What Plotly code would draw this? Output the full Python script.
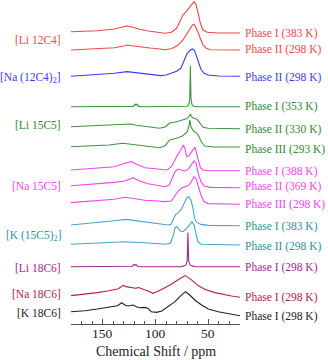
import plotly.graph_objects as go

# ---------------- data (ppm, intensity in arbitrary units) ----------------
li12c4_I_ppm = [180, 170.5, 155, 139, 132.5, 127.3, 121.4, 115, 107, 98, 91, 85, 80, 77, 74, 71, 68, 65, 63.5, 61.5, 59.6, 57.5, 55, 51, 40, 20]
li12c4_I_int = [1.3, 1.7, 2.3, 4, 5.7, 7, 5.7, 3.7, 2, 0.7, -0.3, 0.7, 4.7, 11.3, 18, 21.3, 25.7, 30.3, 31.3, 28, 19.7, 9.7, 3, 0.7, 0, 0]

li12c4_II_ppm = [180, 155, 139, 130, 127, 121, 113, 105, 98, 91, 85, 80, 77, 74, 71, 68, 65, 63.5, 62, 60, 58.5, 57, 55, 52, 48, 20]
li12c4_II_int = [0, 1, 2.3, 4, 5, 4, 2.7, 2, 1.3, 0.3, 1.3, 4, 6.7, 10, 15, 19.5, 25, 25.7, 23.3, 18.3, 15, 10, 5, 1.7, 0.3, 0]

na12c4_II_ppm = [180, 155, 139, 127, 118, 105, 95, 90, 85, 80, 76, 73, 70, 67, 65, 63, 61, 59, 57, 54, 50, 40, 20]
na12c4_II_int = [0, 1.7, 3, 4.7, 3.7, 1.7, 0.7, 1.3, 3, 5, 8, 14.7, 23, 26.3, 27.3, 25.7, 19.7, 13, 7, 3, 1.3, 0.3, 0]

li15c5_I_ppm = [180, 125, 121, 119.5, 118.5, 117.5, 116, 112, 75, 70, 68.5, 67.6, 67, 66.4, 65.5, 64, 60, 20]
li15c5_I_int = [0, 0, 0.3, 2.5, 1.5, 2.5, 0.3, 0, 0, 0.5, 2, 8, 41, 8, 2, 0.5, 0, 0]

li15c5_II_ppm = [180, 159, 144, 131, 124, 118, 108, 96, 91, 86.5, 80, 74, 70, 68, 67, 66, 64.5, 60.6, 58, 55, 50, 20]
li15c5_II_int = [2, 3, 4, 5, 4.7, 3.4, 2, 0.4, 1.7, 5.7, 7, 8.7, 10.2, 12.7, 14.7, 12.2, 10.7, 9.4, 5.4, 1.4, 0.4, 0]

li15c5_III_ppm = [180, 159, 144, 131, 118, 108, 96, 91, 86.5, 80, 74, 70, 68.5, 67.5, 66.5, 64, 62.8, 59.6, 56.4, 53.3, 45, 20]
li15c5_III_int = [0.3, 1.3, 2, 3.7, 2, 1, -0.7, 1.3, 7, 8.7, 11.3, 15.3, 20.3, 27, 20.3, 16, 15.3, 12, 4.7, 1, 0, 0]

na15c5_I_ppm = [180, 155, 139, 129, 123, 118, 110, 98, 89, 85, 82, 79, 76, 73.6, 72, 70.5, 68.5, 66, 62.6, 60.5, 59, 57.5, 55, 50, 20]
na15c5_I_int = [0.7, 2.4, 4, 7.4, 9, 6.4, 3, 1.7, 0.7, 4, 10.7, 16, 21, 25.7, 22, 14, 15, 19, 23.5, 15, 9, 3, 0.7, 0, 0]

na15c5_II_ppm = [180, 155, 139, 129, 124, 122.5, 121, 119, 115, 107, 98, 91, 87, 84, 81.5, 78.6, 75.5, 72.3, 69, 66, 63.5, 61.5, 59.6, 57, 54, 48, 20]
na15c5_II_int = [2, 3.7, 5.3, 6.7, 8.7, 9.3, 10, 8.7, 6.7, 4, 2.7, 1, 2.7, 11, 16, 18.7, 17.7, 16.7, 18.3, 22.7, 26.7, 24.3, 14.3, 6, 1.7, 0.3, 0]

na15c5_III_ppm = [180, 155, 139, 129, 123, 110, 98, 91, 85, 82, 78.6, 75.5, 72.3, 69, 66, 63.5, 61.5, 59.6, 57, 54, 50, 20]
na15c5_III_int = [1.7, 3.7, 5, 7, 6, 4, 3.3, 2.7, 3.3, 7.7, 13.3, 16, 17.3, 18.7, 22.7, 27.7, 25.3, 17.7, 9.3, 2.7, 0.7, 0]

k15c5_I_ppm = [180, 155, 139, 128, 118, 107, 94, 88, 85.5, 83, 81, 79, 76, 73, 70, 68.5, 66.5, 64.5, 63, 61, 57, 50, 20]
k15c5_I_int = [0.7, 3, 5, 6.3, 5, 3.3, 2, 0.7, 1.3, 7.3, 11.3, 12.3, 15.7, 22.3, 28.3, 29.3, 25.7, 17.3, 7.3, 3.3, 1.3, 0.3, 0]

k15c5_II_ppm = [180, 155, 129, 110, 91, 86, 83, 81.5, 79.5, 76.5, 74, 71, 68, 65.5, 63.5, 61.5, 60, 57, 20]
k15c5_II_int = [0.7, 1.7, 3.3, 2.3, 0.7, 1.7, 10, 17.3, 18.3, 14, 13.3, 16, 20, 23.3, 20, 10, 3.3, 0.7, 0]

li18c6_I_ppm = [180, 125, 122, 120.5, 119.5, 118.5, 117, 114, 76, 73, 71, 70, 69.3, 68.6, 67.5, 65.5, 62, 20]
li18c6_I_int = [0, 0, 0.5, 2.3, 1.5, 2.3, 0.5, 0, 0, 0.8, 2, 6, 34, 6, 2, 0.8, 0, 0]

na18c6_I_ppm = [180, 167, 155, 145.5, 136, 133, 131, 128, 123, 119, 116, 111, 106, 102.5, 98, 92, 85, 79, 74, 72, 69, 65, 59.6, 53.3, 43.8, 34, 27.9, 20]
na18c6_I_int = [1.7, 3, 4.7, 6.3, 8.3, 10, 12, 10.7, 9.7, 9, 9.7, 8, 5.7, 4, 5.7, 9, 13, 17.3, 20.7, 21.7, 19.7, 16.7, 11.7, 8, 4.7, 2.3, 1.3, 0]

k18c6_I_ppm = [180, 167, 155, 145.5, 136, 132, 129, 126, 121.4, 118, 115, 110, 107, 104, 99, 94, 88, 81.5, 77, 71.7, 67.5, 62.8, 56.4, 50, 40.6, 31, 20]
k18c6_I_int = [4, 5, 6.7, 8, 10, 13, 10.7, 9.7, 10.7, 9, 8, 8.3, 7.3, 4, 3.3, 4.7, 9, 14, 19, 24, 20.7, 15.7, 10.7, 6.7, 4, 2.3, 0]

spectra_ppm = [li12c4_I_ppm, li12c4_II_ppm, na12c4_II_ppm, li15c5_I_ppm, li15c5_II_ppm, li15c5_III_ppm,
               na15c5_I_ppm, na15c5_II_ppm, na15c5_III_ppm, k15c5_I_ppm, k15c5_II_ppm,
               li18c6_I_ppm, na18c6_I_ppm, k18c6_I_ppm]
spectra_int = [li12c4_I_int, li12c4_II_int, na12c4_II_int, li15c5_I_int, li15c5_II_int, li15c5_III_int,
               na15c5_I_int, na15c5_II_int, na15c5_III_int, k15c5_I_int, k15c5_II_int,
               li18c6_I_int, na18c6_I_int, k18c6_I_int]

phase_labels = ["Phase I (383 K)", "Phase II (298 K)", "Phase II (298 K)", "Phase I (353 K)",
                "Phase II (330 K)", "Phase III (293 K)", "Phase I (388 K)", "Phase II (369 K)",
                "Phase III (298 K)", "Phase I (383 K)", "Phase II (298 K)", "Phase I (298 K)",
                "Phase I (298 K)", "Phase I (298 K)"]
compound_labels = ["[Li 12C4]", "[Na (12C4)<sub>2</sub>]", "[Li 15C5]", "[Na 15C5]",
                   "[K (15C5)<sub>2</sub>]", "[Li 18C6]", "[Na 18C6]", "[K 18C6]"]
tick_values = [150, 100, 50]
tick_labels = ["150", "100", "50"]
x_title = "Chemical Shift / ppm"

# ---------------- layout / style (vertical stacking offsets) ----------------
offsets = [291, 274, 247.7, 217.3, 195.3, 177, 153.3, 136.3, 119.7, 98.3, 79, 57.3, 26.7, 8.3]
label_y = [290.7, 274.7, 246.7, 217.3, 194.7, 174.7, 152.3, 138, 119.7, 98, 78, 56.3, 26.3, 7.3]
compound_y = [284, 246, 199, 138, 88, 56.3, 29.7, 11.3]

red, blue, green, mag, teal, purple, dred, black = "#f24646", "#3b3bef", "#3e963e", "#f044f0", "#47a3c9", "#a3268f", "#b3223f", "#222222"
teal_txt, green_txt = "#2b9595", "#2f8a2f"
trace_colors = [red, red, blue, green, green, green, mag, mag, mag, teal, teal, purple, dred, black]
label_colors = [red, red, blue, green_txt, green_txt, green_txt, mag, mag, mag, teal_txt, teal_txt, purple, dred, black]
compound_colors = [red, blue, green_txt, mag, teal_txt, purple, dred, black]

FONT = "Liberation Serif, Times New Roman, serif"
PLOT_H = 324.0

fig = go.Figure()
for xs, ys, off, col in zip(spectra_ppm, spectra_int, offsets, trace_colors):
    fig.add_trace(go.Scatter(x=xs, y=[off + v for v in ys], mode="lines",
                             line=dict(color=col, width=1.1), hoverinfo="skip", showlegend=False))

annotations = []
for txt, y, col in zip(phase_labels, label_y, label_colors):
    annotations.append(dict(text=txt, x=1.018, xref="paper", y=y, yref="y", xanchor="left", yanchor="middle",
                            showarrow=False, font=dict(family=FONT, size=11.5, color=col)))
for txt, y, col in zip(compound_labels, compound_y, compound_colors):
    annotations.append(dict(text=txt, x=-0.045, xref="paper", y=y, yref="y", xanchor="right", yanchor="middle",
                            showarrow=False, font=dict(family=FONT, size=11.5, color=col)))
# x tick labels and axis title placed close to the axis, as in the reference
x0, x1 = 180.0, 20.0
for v, t in zip(tick_values, tick_labels):
    annotations.append(dict(text=t, x=(v - x0) / (x1 - x0), xref="paper", y=-9.3 / PLOT_H, yref="paper",
                            xanchor="center", yanchor="middle", showarrow=False,
                            font=dict(family=FONT, size=13.5, color="#222222")))
annotations.append(dict(text=x_title, x=0.5, xref="paper", y=-27.7 / PLOT_H, yref="paper", xanchor="center",
                        yanchor="middle", showarrow=False, font=dict(family=FONT, size=14, color="#222222")))

fig.update_layout(
    width=328, height=360,
    margin=dict(l=71, r=88, t=0, b=36),
    paper_bgcolor="white", plot_bgcolor="white",
    annotations=annotations,
    font=dict(family=FONT, color="#222222"),
    xaxis=dict(range=[x0, x1], showgrid=False, zeroline=False, showline=True, linecolor="#555555", linewidth=1,
               ticks="inside", ticklen=5, tickcolor="#555555", tickvals=tick_values, showticklabels=False,
               minor=dict(ticks="inside", ticklen=3, dtick=10, tick0=0, tickcolor="#555555", showgrid=False)),
    yaxis=dict(range=[0, PLOT_H], visible=False, showgrid=False, zeroline=False),
)

fig.write_html("out.html", config={"displayModeBar": False},
               post_script="document.body.style.margin='0';document.body.style.padding='0';document.body.style.overflow='hidden';")
